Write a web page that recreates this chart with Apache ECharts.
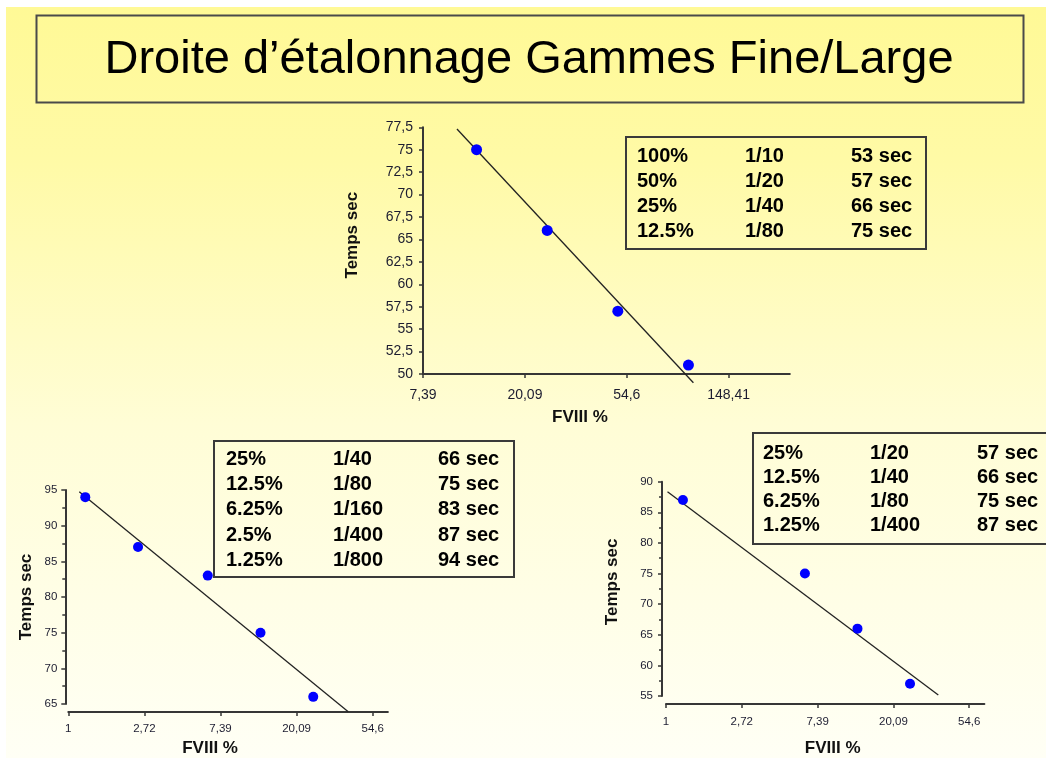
<!DOCTYPE html>
<html>
<head>
<meta charset="utf-8">
<script src="https://cdn.jsdelivr.net/npm/echarts@6/dist/echarts.min.js"></script>
<style>
  html, body { margin: 0; padding: 0; background: #ffffff; }
  #chart { width: 1046px; height: 758px; }
</style>
</head>
<body>
<div id="chart"></div>
<script>
const FONT = '"Liberation Sans", Arial, Helvetica, sans-serif';

const titleText = 'Droite d\u2019étalonnage Gammes Fine/Large';
const xName = 'FVIII %';
const yName = 'Temps sec';

// Gamme fine (upper plot): FVIII % vs clotting time
const fineX = [12.5, 25, 50, 100];
const fineY = [75, 66, 57, 51];
const fineFitX = [10.31, 105];
const fineFitY = [77.31, 49.03];
const fineXTickExp = [2, 3, 4, 5];
const fineXTickLabels = ['7,39', '20,09', '54,6', '148,41'];
const fineXRangeExp = [2, 5.6];
const fineYRange = [50, 77.5, 2.5];
const fineTable = [
  ['100%', '1/10', '53 sec'],
  ['50%', '1/20', '57 sec'],
  ['25%', '1/40', '66 sec'],
  ['12.5%', '1/80', '75 sec']
];

// Gamme large (lower left)
const largeAX = [1.25, 2.5, 6.25, 12.5, 25];
const largeAY = [94, 87, 83, 75, 66];
const largeAFitX = [1.155, 39.6];
const largeAFitY = [94.76, 63.9];
const largeAYRange = [65, 95, 5];
const largeATable = [
  ['25%', '1/40', '66 sec'],
  ['12.5%', '1/80', '75 sec'],
  ['6.25%', '1/160', '83 sec'],
  ['2.5%', '1/400', '87 sec'],
  ['1.25%', '1/800', '94 sec']
];

// Gamme large (lower right)
const largeBX = [1.25, 6.25, 12.5, 25];
const largeBY = [87, 75, 66, 57];
const largeBFitX = [1.02, 36.3];
const largeBFitY = [88.37, 55.15];
const largeBYRange = [55, 90, 5];
const largeBTable = [
  ['25%', '1/20', '57 sec'],
  ['12.5%', '1/40', '66 sec'],
  ['6.25%', '1/80', '75 sec'],
  ['1.25%', '1/400', '87 sec']
];

const largeXTickExp = [0, 1, 2, 3, 4];
const largeXTickLabels = ['1', '2,72', '7,39', '20,09', '54,6'];
const largeXRangeExp = [0, 4.2];

const zip = (xs, ys) => xs.map((x, i) => [x, ys[i]]);

const AXIS_COLOR = '#363636';
const LABEL_COLOR = '#1c1c30';

function logXAxis(gridIndex, exps, labels, rangeExp, o) {
  return {
    type: 'log',
    logBase: Math.E,
    gridIndex,
    min: Math.exp(rangeExp[0] - 1e-4),
    max: Math.exp(rangeExp[1]),
    offset: o.offset,
    name: xName,
    nameLocation: 'middle',
    nameGap: o.nameGap,
    nameTextStyle: {
      fontFamily: FONT, fontWeight: 'bold', fontSize: 17, color: '#111',
      padding: o.namePad
    },
    axisLine: { show: true, lineStyle: { color: AXIS_COLOR, width: 2 } },
    axisTick: {
      show: true, length: 4, customValues: exps.map(Math.exp),
      lineStyle: { color: AXIS_COLOR, width: 1.5 }
    },
    minorTick: { show: false },
    splitLine: { show: false },
    axisLabel: {
      customValues: exps.map(Math.exp),
      margin: o.labelMargin,
      fontFamily: FONT, fontSize: o.fontSize, color: LABEL_COLOR,
      formatter: v => {
        const i = exps.indexOf(Math.round(Math.log(v)));
        return i < 0 ? '' : labels[i];
      }
    }
  };
}

function valueYAxis(gridIndex, range, o) {
  return {
    type: 'value',
    gridIndex,
    min: range[0],
    max: range[1],
    interval: range[2],
    offset: o.offset,
    name: yName,
    nameLocation: 'middle',
    nameGap: o.nameGap,
    nameTextStyle: {
      fontFamily: FONT, fontWeight: 'bold', fontSize: 17, color: '#111',
      padding: o.namePad
    },
    axisLine: { show: true, lineStyle: { color: AXIS_COLOR, width: 2 } },
    axisTick: { show: true, length: 4, lineStyle: { color: AXIS_COLOR, width: 1.5 } },
    minorTick: {
      show: o.minor, splitNumber: 2, length: 3,
      lineStyle: { color: AXIS_COLOR, width: 1.5 }
    },
    splitLine: { show: false },
    axisLabel: {
      margin: o.labelMargin,
      fontFamily: FONT, fontSize: o.fontSize, color: LABEL_COLOR,
      formatter: v => String(v).replace('.', ',')
    }
  };
}

function scatter(idx, xs, ys, size) {
  return {
    type: 'scatter',
    xAxisIndex: idx, yAxisIndex: idx,
    data: zip(xs, ys),
    symbol: 'circle',
    symbolSize: size,
    itemStyle: { color: '#0000ff', opacity: 1 },
    z: 4,
    silent: true
  };
}

function fitLine(idx, xs, ys) {
  return {
    type: 'line',
    xAxisIndex: idx, yAxisIndex: idx,
    data: zip(xs, ys),
    symbol: 'none',
    clip: false,
    lineStyle: { color: '#222222', width: 1.3, opacity: 1 },
    z: 3,
    silent: true
  };
}

function tableGraphic(rows, box, cols, rowY) {
  const els = [{
    type: 'rect',
    shape: { x: box[0], y: box[1], width: box[2], height: box[3] },
    style: { fill: 'none', stroke: '#3a3a3a', lineWidth: 2 },
    z: 10
  }];
  rows.forEach((r, i) => {
    r.forEach((cell, j) => {
      els.push({
        type: 'text',
        x: cols[j],
        y: rowY[0] + i * rowY[1],
        style: {
          text: cell,
          font: 'bold 20px ' + FONT,
          fill: '#000000',
          verticalAlign: 'middle',
          align: 'left'
        },
        z: 10
      });
    });
  });
  return els;
}

const chart = echarts.init(document.getElementById('chart'), null, { renderer: 'canvas' });

const graphics = [
  {
    type: 'rect',
    shape: { x: 6, y: 7, width: 1046, height: 760 },
    style: {
      fill: {
        type: 'linear', x: 0, y: 0, x2: 0, y2: 1,
        colorStops: [
          { offset: 0, color: '#fff996' },
          { offset: 0.2, color: '#fffaa6' },
          { offset: 0.55, color: '#fffdd6' },
          { offset: 1, color: '#fffff6' }
        ]
      }
    },
    z: -100
  },
  {
    type: 'rect',
    shape: { x: 36.5, y: 15.5, width: 987, height: 87 },
    style: { fill: 'none', stroke: '#4a4a4a', lineWidth: 2 },
    z: 10
  },
  {
    type: 'text',
    x: 529,
    y: 60,
    style: {
      text: titleText,
      font: '47px ' + FONT,
      fill: '#000000',
      align: 'center',
      verticalAlign: 'middle'
    },
    z: 10
  }
]
  .concat(tableGraphic(fineTable, [626, 137, 300, 112], [637, 745, 851], [156.5, 25]))
  .concat(tableGraphic(largeATable, [214, 441, 300, 136], [226, 333, 438], [459.5, 25.2]))
  .concat(tableGraphic(largeBTable, [753, 433, 310, 111], [763, 870, 977], [453.5, 24]));

chart.setOption({
  animation: false,
  backgroundColor: '#ffffff',
  textStyle: { fontFamily: FONT },
  graphic: graphics,
  grid: [
    { left: 423, top: 127.3, width: 366.8, height: 246.7, containLabel: false },
    { left: 68.3, top: 490, width: 319.6, height: 214, containLabel: false },
    { left: 666, top: 481.7, width: 318.4, height: 214.3, containLabel: false }
  ],
  xAxis: [
    logXAxis(0, fineXTickExp, fineXTickLabels, fineXRangeExp,
      { offset: 0, nameGap: 35, namePad: [0, 53, 0, 0], labelMargin: 14, fontSize: 14 }),
    logXAxis(1, largeXTickExp, largeXTickLabels, largeXRangeExp,
      { offset: 8, nameGap: 28, namePad: [0, 36, 0, 0], labelMargin: 11, fontSize: 11.5 }),
    logXAxis(2, largeXTickExp, largeXTickLabels, largeXRangeExp,
      { offset: 8, nameGap: 36, namePad: [0, 0, 0, 15], labelMargin: 12, fontSize: 11.5 })
  ],
  yAxis: [
    valueYAxis(0, fineYRange,
      { offset: 0, nameGap: 62, namePad: [0, 0, 0, 31], labelMargin: 10, fontSize: 14, minor: false }),
    valueYAxis(1, largeAYRange,
      { offset: 3, nameGap: 30, namePad: [0, 0, 0, 0], labelMargin: 8, fontSize: 11.5, minor: true }),
    valueYAxis(2, largeBYRange,
      { offset: 4, nameGap: 41, namePad: [0, 0, 0, 14], labelMargin: 9, fontSize: 11.5, minor: true })
  ],
  series: [
    fitLine(0, fineFitX, fineFitY),
    scatter(0, fineX, fineY, 11),
    fitLine(1, largeAFitX, largeAFitY),
    scatter(1, largeAX, largeAY, 10),
    fitLine(2, largeBFitX, largeBFitY),
    scatter(2, largeBX, largeBY, 10)
  ]
});
</script>
</body>
</html>
